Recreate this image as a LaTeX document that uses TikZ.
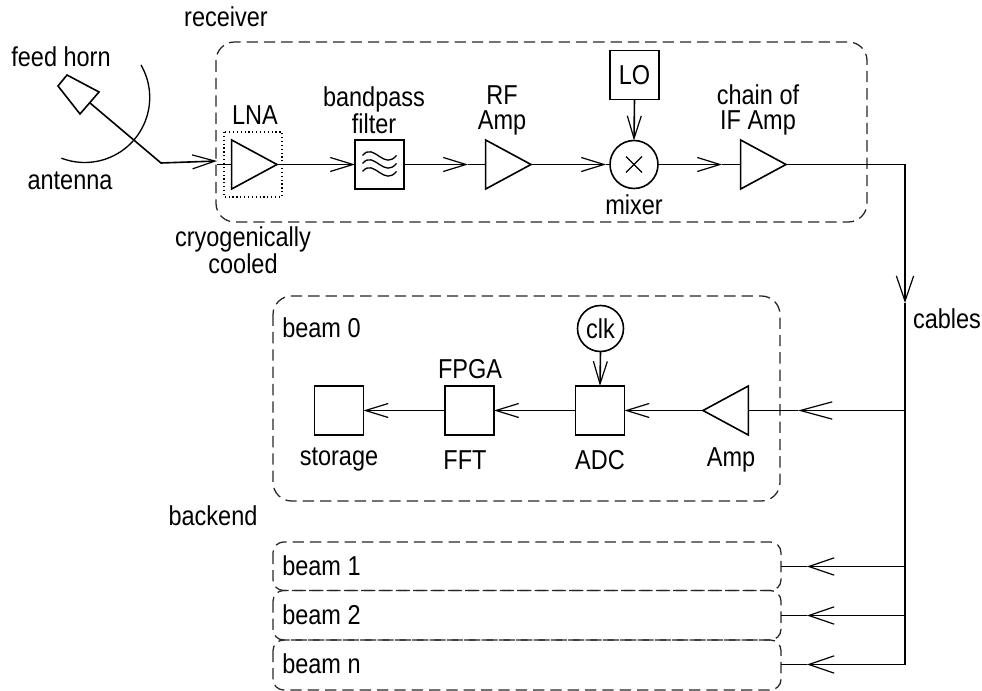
\documentclass[tikz,border=0pt]{standalone}
\usepackage{fontspec}
\setmainfont{Liberation Sans}[FakeStretch=0.86]
\usetikzlibrary{arrows.meta,shapes.geometric}
\tikzset{
  wire/.style={line width=1.2pt,draw=black},
  flow/.style={wire,-{Straight Barb[length=17pt,width=10.5pt,line width=0.9pt]}},
  flowwide/.style={wire,-{Straight Barb[length=19pt,width=13pt,line width=0.9pt]}},
  flowlong/.style={wire,-{Straight Barb[length=24pt,width=13pt,line width=0.9pt]}},
  sq/.style={draw=black,line width=1.2pt,rectangle,minimum width=36.75pt,minimum height=36.75pt,inner sep=0pt,outer sep=0pt},
  amp/.style={draw=black,line width=1.2pt,isosceles triangle,isosceles triangle stretches,minimum width=36.75pt,minimum height=34pt,inner sep=0pt,outer sep=0pt,anchor=apex},
  ampL/.style={amp,shape border rotate=180},
  ring/.style={draw=black,line width=1.2pt,circle,inner sep=0pt,outer sep=0pt},
  group/.style={draw=black!85,line width=0.95pt,dash pattern=on 8.5pt off 4.5pt,rounded corners=14pt},
  beamgroup/.style={group,rounded corners=8pt},
  lab/.style={inner sep=0pt,align=center,font=\fontsize{20.5}{18.75}\selectfont},
  labl/.style={lab,anchor=west},
}
\begin{document}
\begin{tikzpicture}[x=0.75pt,y=-0.75pt]
\useasboundingbox (0,0) rectangle (982,691);
% dashed groups
\draw[group] (216,42) rectangle (867,222);
\draw[group] (273,296) rectangle (780,501);
\draw[beamgroup] (273,542) rectangle (781,590.5);
\draw[beamgroup] (273,590.5) rectangle (781,640);
\draw[beamgroup] (273,640) rectangle (781,690);
\draw[draw=black,line width=0.9pt,dotted] (224,132) rectangle (282,197);
% receiver blocks
\node[amp] (lna) at (277,164.5) {};
\node[sq] (filter) at (379.5,164.5) {};
\node[amp] (rf) at (531,164.5) {};
\node[ring,minimum size=36pt] (mixer) at (634,164.5) {};
\node[sq,font=\fontsize{20.5}{18.75}\selectfont] (lo) at (634.5,75) {LO};
\node[amp] (ifamp) at (786,164.5) {};
% backend blocks
\node[sq] (storage) at (339,410.5) {};
\node[sq] (fft) at (469.5,410.5) {};
\node[sq] (adc) at (600,410.5) {};
\node[ampL] (amp0) at (703,410.5) {};
\node[ring,minimum size=34.5pt,font=\fontsize{20.5}{18.75}\selectfont] (clk) at (600.5,328.5) {clk};
% feed horn and antenna
\draw[wire] (67,75) -- (99,92) -- (80,114) -- (58,86) -- cycle;
\draw[wire,line width=1pt] (141,65) arc[start angle=-30,end angle=111,radius=65];
\coordinate (hornout) at (90,103);
\coordinate (bend) at (161,163);
\coordinate (rxin) at (217,161);
\coordinate (rxstub) at (217,164.5);
\draw[flow] (hornout) -- (bend) -- (rxin);
\draw[wire] (rxstub) -- (lna.lower side);
% receiver chain
\draw[flow] (lna.apex) -- (filter.west);
\coordinate (rfin) at (468,164.5);
\draw[flow] (filter.east) -- (rfin);
\draw[wire] (rfin) -- (rf.lower side);
\coordinate (mixin) at (606,164.5);
\draw[flow] (rf.apex) -- (mixin);
\draw[wire] (mixin) -- (mixer.west);
\coordinate (ifin) at (722,164.5);
\draw[flow] (mixer.east) -- (ifin);
\draw[wire] (ifin) -- (ifamp.lower side);
\draw[flow] (lo.south) -- (mixer.north);
\draw[wire,line width=0.9pt] ([shift={(-8,-8)}]mixer.center) -- ([shift={(8,8)}]mixer.center);
\draw[wire,line width=0.9pt] ([shift={(-8,8)}]mixer.center) -- ([shift={(8,-8)}]mixer.center);
% filter symbol
\foreach \d in {-8,0,8}{
  \draw[wire,line width=1pt] ([shift={(-17,\d-1)}]filter.center) .. controls ([shift={(-11,\d-8)}]filter.center) and ([shift={(-6,\d-4)}]filter.center) .. ([shift={(0,\d)}]filter.center) .. controls ([shift={(6,\d+4)}]filter.center) and ([shift={(11,\d+6)}]filter.center) .. ([shift={(17,\d-1)}]filter.center);
}
% cables
\coordinate (corner) at (905,164.5);
\coordinate (cabletip) at (905,303);
\coordinate (busend) at (905,664.5);
\coordinate (tap0) at (905,410.5);
\coordinate (tap1) at (905,566.5);
\coordinate (tap2) at (905,615.5);
\coordinate (in0) at (798,410.5);
\coordinate (in1) at (807,566.5);
\coordinate (in2) at (807,615.5);
\coordinate (inn) at (807,664.5);
\coordinate (end1) at (781,566.5);
\coordinate (end2) at (781,615.5);
\coordinate (endn) at (781,664.5);
\draw[flowwide] (ifamp.apex) -- (corner) -- (cabletip);
\draw[wire] (cabletip) -- (busend);
\draw[flowlong] (tap0) -- (in0);
\draw[wire] (in0) -- (amp0.lower side);
\draw[flowwide] (tap1) -- (in1);
\draw[wire] (in1) -- (end1);
\draw[flowwide] (tap2) -- (in2);
\draw[wire] (in2) -- (end2);
\draw[flowwide] (busend) -- (inn);
\draw[wire] (inn) -- (endn);
% backend chain
\draw[flow] (amp0.apex) -- (adc.east);
\draw[flow] (adc.west) -- (fft.east);
\draw[flow] (fft.west) -- (storage.east);
\draw[flow] (clk.south) -- (adc.north);
% labels
\node[lab] (tReceiver) at (226,17) {receiver};
\node[lab] (tHorn) at (61,57) {feed horn};
\node[lab] (tAntenna) at (70,181) {antenna};
\node[lab] (tLna) at (255,115) {LNA};
\node[lab] (tBand) at (374,110) {bandpass\\filter};
\node[lab] (tCryo) at (243,250) {cryogenically\\cooled};
\node[lab] (tRf) at (502,110) {RF\\Amp};
\node[lab] (tChain) at (758,110) {chain of\\IF Amp};
\node[lab] (tMixer) at (634,205) {mixer};
\node[lab] (tCables) at (947,319) {cables};
\node[labl] (tBeam0) at (282,328) {beam 0};
\node[lab] (tFpga) at (470,369) {FPGA};
\node[lab] (tStorage) at (339,460) {storage};
\node[lab] (tFft) at (465,460) {FFT};
\node[lab] (tAdc) at (600,460) {ADC};
\node[lab] (tAmp) at (731,460) {Amp};
\node[lab] (tBackend) at (213,516) {backend};
\node[labl] (tBeam1) at (282,566) {beam 1};
\node[labl] (tBeam2) at (282,615) {beam 2};
\node[labl] (tBeamN) at (282,664) {beam n};
\end{tikzpicture}
\end{document}
